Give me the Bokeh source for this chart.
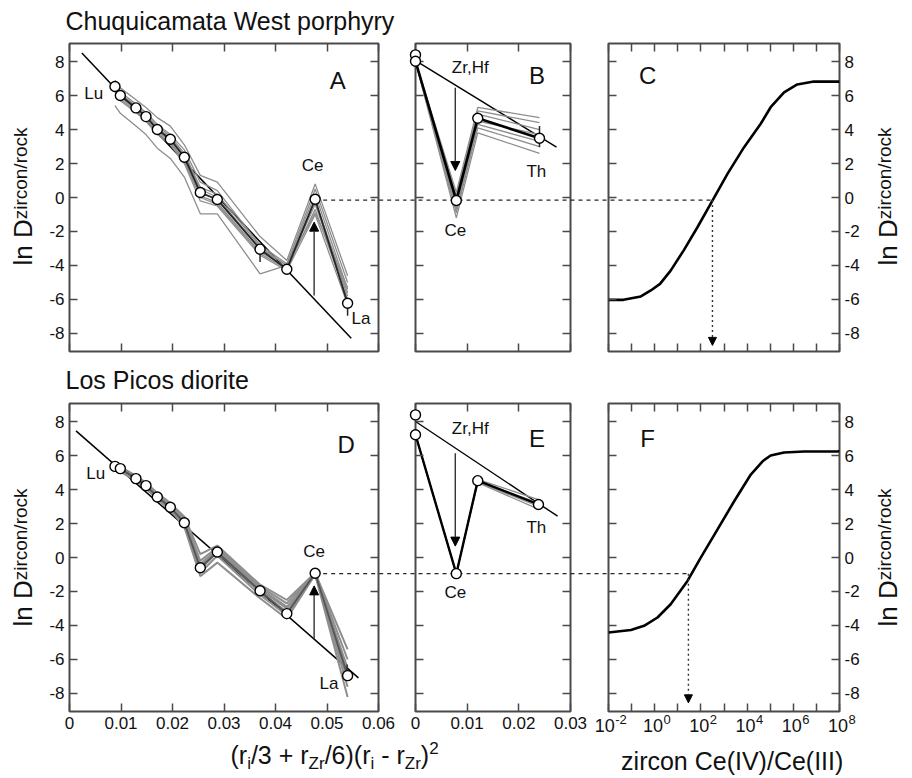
import math
from bokeh.plotting import figure
from bokeh.models import (Range1d, FixedTicker, LinearAxis, LogAxis,
                          CustomJSTickFormatter, Label, Arrow, NormalHead)
from bokeh.layouts import row, column
from bokeh.embed import file_html
from bokeh.resources import INLINE
from bokeh.core.properties import value

# ---------------- data ----------------
ree_x = [0.00883, 0.00987, 0.0129, 0.01485, 0.01705, 0.01958, 0.0223,
         0.0254, 0.0287, 0.0370, 0.0422, 0.0477, 0.0540]

# Chuquicamata West porphyry (panel A)
chuqui_mean = [6.53, 6.0, 5.27, 4.76, 4.0, 3.43, 2.37, 0.29, -0.12, -3.04, -4.22, -0.1, -6.22]
chuqui_s1 = [6.9, 6.45, 5.75, 5.3, 4.7, 4.2, 3.1, 1.3, 0.9, -2.3, -3.7, 0.8, -4.6]
chuqui_s2 = [6.7, 6.2, 5.5, 5.0, 4.3, 3.7, 2.8, 0.9, 0.4, -2.8, -3.9, 0.5, -5.0]
chuqui_s3 = [6.6, 6.1, 5.4, 4.9, 4.2, 3.6, 2.6, 0.6, 0.2, -2.9, -4.0, 0.2, -5.4]
chuqui_s4 = [6.4, 5.9, 5.2, 4.7, 3.9, 3.3, 2.2, 0.1, -0.3, -3.2, -4.1, -0.4, -5.8]
chuqui_s5 = [6.3, 5.8, 5.1, 4.6, 3.8, 3.2, 2.1, 0.0, -0.4, -3.3, -4.2, -0.7, -6.0]
chuqui_s6 = [6.2, 5.7, 5.0, 4.5, 3.7, 3.1, 2.0, -0.2, -0.5, -3.4, -4.3, -1.0, -6.3]
chuqui_s7 = [6.5, 6.0, 5.3, 4.8, 4.1, 3.5, 2.5, 0.5, 0.0, -3.0, -4.0, -0.2, -5.6]
chuqui_s8 = [5.41, 4.95, 4.2, 3.7, 2.9, 2.3, 1.2, -0.96, -0.96, -4.49, -4.0, -0.9, -5.3]
chuqui_lattice_x = [0.0024, 0.0547]
chuqui_lattice_y = [8.5, -8.28]
chuqui_err_x = [0.0370, 0.0540]
chuqui_err_lo = [-3.8, -6.95]
chuqui_err_hi = [-3.04, -6.22]

# Chuquicamata tetravalent cations (panel B)
b_x = [0.0, 0.0079, 0.01205, 0.024]
b_mean = [8.02, -0.18, 4.66, 3.49]
b_s1 = [8.0, 0.3, 5.3, 4.7]
b_s2 = [8.0, 0.1, 5.1, 4.4]
b_s3 = [8.0, -0.3, 4.9, 4.0]
b_s4 = [8.0, -0.5, 4.5, 3.7]
b_s5 = [8.0, -0.7, 4.3, 3.3]
b_s6 = [8.0, -0.9, 4.1, 3.0]
b_s7 = [8.0, -1.2, 3.8, 2.6]
b_pts_x = [0.0, 0.0, 0.0079, 0.01205, 0.024]
b_pts_y = [8.39, 8.02, -0.18, 4.66, 3.49]
b_lattice_x = [0.0, 0.0273]
b_lattice_y = [8.05, 2.96]
b_err_x = [0.024]
b_err_lo = [2.96]
b_err_hi = [4.2]

# Chuquicamata Ce(IV)/Ce(III) curve (panel C)
c_ratio = [0.01, 0.0447, 0.251, 0.676, 1.70, 4.90, 18.6, 70.8, 316, 1413, 7413,
           38900, 104700, 398000, 1.48e6, 7.76e6, 7.94e7, 1e8]
c_lnD = [-6.02, -6.02, -5.82, -5.47, -5.08, -4.3, -3.08, -1.75, -0.18, 1.39, 2.96,
         4.34, 5.31, 6.19, 6.65, 6.82, 6.82, 6.82]
c_ce_lnD = -0.15
c_ce_ratio = 316

# Los Picos diorite (panel D)
picos_mean = [5.36, 5.23, 4.64, 4.23, 3.56, 2.96, 2.04, -0.6, 0.32, -1.96, -3.3, -0.93, -6.95]
picos_s1 = [5.5, 5.35, 4.8, 4.4, 3.8, 3.2, 2.4, 0.2, 0.7, -1.6, -2.5, -0.9, -5.4]
picos_s2 = [5.45, 5.3, 4.75, 4.35, 3.7, 3.1, 2.3, -0.2, 0.6, -1.7, -2.7, -0.9, -6.0]
picos_s3 = [5.4, 5.25, 4.7, 4.3, 3.6, 3.0, 2.2, -0.4, 0.5, -1.8, -2.9, -0.95, -6.5]
picos_s4 = [5.3, 5.15, 4.6, 4.2, 3.5, 2.9, 2.0, -0.7, 0.3, -2.0, -3.2, -0.95, -7.2]
picos_s5 = [5.25, 5.1, 4.55, 4.1, 3.45, 2.85, 1.9, -0.9, 0.1, -2.2, -3.4, -1.0, -7.6]
picos_s6 = [5.2, 5.05, 4.5, 4.05, 3.4, 2.8, 1.8, -1.1, -0.3, -2.4, -3.6, -1.0, -8.2]
picos_s7 = [5.35, 5.2, 4.65, 4.25, 3.55, 2.95, 2.1, -0.5, 0.4, -1.9, -3.0, -0.9, -6.8]
picos_lattice_x = [0.00126, 0.0561]
picos_lattice_y = [7.45, -7.08]
picos_err_x = [0.0539]
picos_err_lo = [-6.95]
picos_err_hi = [-6.3]

# Los Picos tetravalent cations (panel E)
e_x = [0.0, 0.0079, 0.01205, 0.0238]
e_mean = [7.22, -0.95, 4.52, 3.12]
e_s1 = [7.22, -0.95, 4.6, 3.4]
e_s2 = [7.22, -0.95, 4.5, 3.2]
e_s3 = [7.22, -0.95, 4.45, 3.0]
e_s4 = [7.22, -0.95, 4.4, 2.85]
e_pts_x = [0.0, 0.0, 0.0079, 0.01205, 0.0238]
e_pts_y = [8.39, 7.22, -0.95, 4.52, 3.12]
e_lattice_x = [0.0, 0.0275]
e_lattice_y = [8.0, 2.43]

# Los Picos Ce(IV)/Ce(III) curve (panel F)
f_ratio = [0.01, 0.0933, 0.347, 1.32, 4.90, 26.3, 100, 525, 2754, 14450, 46770,
           104700, 398000, 2.95e6, 7.94e7, 1e8]
f_lnD = [-4.41, -4.27, -4.02, -3.53, -2.75, -1.38, 0.01, 1.65, 3.31, 4.88, 5.66,
         6.0, 6.18, 6.24, 6.24, 6.26]
f_ce_lnD = -0.95
f_ce_ratio = 28.8

# axis ticks
y_ticks = [-8, -6, -4, -2, 0, 2, 4, 6, 8]
y_tick_labels = ["-8", "-6", "-4", "-2", "0", "2", "4", "6", "8"]
wide_x_ticks = [0, 0.01, 0.02, 0.03, 0.04, 0.05, 0.06]
wide_x_labels = ["0", "0.01", "0.02", "0.03", "0.04", "0.05", "0.06"]
narrow_x_ticks = [0, 0.01, 0.02, 0.03]
narrow_x_labels = ["0", "0.01", "0.02", "0.03"]
log_x_ticks = [1e-2, 1e-1, 1e0, 1e1, 1e2, 1e3, 1e4, 1e5, 1e6, 1e7, 1e8]
log_label_ticks = [1e-2, 1e0, 1e2, 1e4, 1e6, 1e8]
log_label_base = "10"
log_label_exps = ["-2", "0", "2", "4", "6", "8"]

# in-panel annotations
a_lbl_text = ["Lu", "Ce", "La"]
a_lbl_x = [0.0047, 0.0472, 0.0566]
a_lbl_y = [6.1, 1.88, -7.12]
d_lbl_text = ["Lu", "Ce", "La"]
d_lbl_x = [0.0051, 0.0475, 0.0504]
d_lbl_y = [4.97, 0.38, -7.43]
be_lbl_text = ["Zr,Hf", "Th", "Ce"]
b_lbl_x = [0.0106, 0.0234, 0.0077]
b_lbl_y = [7.66, 1.55, -1.94]
e_lbl_x = [0.0106, 0.0234, 0.0077]
e_lbl_y = [7.61, 1.75, -2.06]
a_arrow = (0.0475, -5.76, -1.45)
d_arrow = (0.0475, -4.8, -1.67)
b_arrow = (0.0077, 6.45, 1.59)
e_arrow = (0.0077, 6.14, 0.67)

# ---------------- style / layout ----------------
FONT = "Liberation Sans"
FRAME = "#4a4a4a"
GRAY = "#8e8e8e"
DARK = "#262626"
YR = (-9.06, 9.06)

# (origin, size, border_before, border_after) in page pixels
COLS = [(0, 405, 69, 27), (405, 184, 10, 19), (589, 322, 19, 72)]
ROWS = [(0, 365, 43, 14), (365, 373, 38, 27)]
STRIP_Y, STRIP_H = 738, 39
TOTAL_W = 911

AW = {'l': 222, 'n': 556, ' ': 278, 'D': 722, 'z': 500, 'i': 222, 'r': 333, 'c': 500,
      'o': 556, '/': 278, 'k': 500, '(': 333, ')': 333, '3': 556, '+': 584, '6': 556,
      '-': 333, 'Z': 611, '2': 556, '0': 556, '1': 556, '4': 556, '8': 556}


def tw(s, size):
    return sum(AW.get(ch, 556) for ch in s) / 1000.0 * size


JS = """
for (let i = 0; i < tv.length; i++) {
  if (Math.abs(tick - tv[i]) <= 1e-9 * Math.max(1, Math.abs(tv[i]))) return lb[i];
}
return "";
"""


def style_axis(ax, ticks, labels, show):
    ax.ticker = FixedTicker(ticks=ticks)
    ax.formatter = CustomJSTickFormatter(
        args=dict(tv=ticks, lb=(labels if show else [""] * len(ticks))), code=JS)
    ax.axis_line_color = None
    ax.major_tick_in = 8
    ax.major_tick_out = 0
    ax.major_tick_line_color = FRAME
    ax.major_tick_line_width = 1.5
    ax.minor_tick_line_color = None
    ax.major_label_text_font = FONT
    ax.major_label_text_font_size = "17px" if show else "1px"
    ax.major_label_standoff = 5 if show else 0
    ax.major_label_text_color = "#111111"


def make_fig(c, r, xr, logx, xt, xl, show_x, show_left, show_right):
    ox, w, bl, br = COLS[c]
    oy, h, bt, bb = ROWS[r]
    p = figure(width=w, height=h, x_range=Range1d(*xr), y_range=Range1d(*YR),
               x_axis_type="log" if logx else "linear", title=None,
               min_border_left=bl, min_border_right=br,
               min_border_top=bt, min_border_bottom=bb,
               toolbar_location=None, output_backend="svg")
    p.grid.visible = False
    p.outline_line_color = FRAME
    p.outline_line_width = 2
    p.background_fill_color = "white"
    p.border_fill_color = "white"
    style_axis(p.below[0], xt, xl, show_x)
    style_axis(p.left[0], y_ticks, y_tick_labels, show_left)
    top = LogAxis() if logx else LinearAxis()
    p.add_layout(top, "above")
    style_axis(top, xt, xl, False)
    right = LinearAxis()
    p.add_layout(right, "right")
    style_axis(right, y_ticks, y_tick_labels, show_right)
    g = dict(p=p, ox=ox, oy=oy, w=w, h=h, fl=bl, ft=bt, fw=w - bl - br, fh=h - bt - bb,
             xr=xr, logx=logx)
    return p, g


def to_data(g, gx, gy):
    fx = (gx - g['ox'] - g['fl']) / g['fw']
    fy = (gy - g['oy'] - g['ft']) / g['fh']
    x0, x1 = g['xr']
    if g['logx']:
        x = 10 ** (math.log10(x0) + fx * (math.log10(x1) - math.log10(x0)))
    else:
        x = x0 + fx * (x1 - x0)
    y = YR[1] - fy * (YR[1] - YR[0])
    return x, y


def to_page_x(g, x):
    x0, x1 = g['xr']
    if g['logx']:
        fx = (math.log10(x) - math.log10(x0)) / (math.log10(x1) - math.log10(x0))
    else:
        fx = (x - x0) / (x1 - x0)
    return g['ox'] + g['fl'] + fx * g['fw']


def border_text(g, text, gx, gy, size, align="left", angle=0.0):
    """Text in a figure's border area; (gx, gy) is the page-pixel anchor (vertical middle)."""
    x, y = to_data(g, gx, gy)
    g['p'].text(x=[x], y=[y], text=[text], text_font=value(FONT),
                text_font_size=value(f"{size}px"), text_color="#111111",
                text_align=align, text_baseline="middle", angle=angle,
                level="overlay")


def panel_label(p, x, y, text, size, align="center"):
    p.add_layout(Label(x=x, y=y, text=text, text_font=FONT, text_font_size=f"{size}px",
                       text_color="#111111", text_align=align, text_baseline="middle"))


def hline(g, y, gx0=None, gx1=None, x0=None, x1=None):
    if x0 is None:
        x0 = to_data(g, gx0, 0)[0]
    if x1 is None:
        x1 = to_data(g, gx1, 0)[0]
    g['p'].line([x0, x1], [y, y], line_color=DARK, line_width=1.3, line_dash="4 4",
                level="overlay")


def vert_arrow(p, x, y0, y1, dash="solid", size=9):
    p.add_layout(Arrow(end=NormalHead(size=size, fill_color="black", line_color="black"),
                       x_start=x, y_start=y0, x_end=x, y_end=y1,
                       line_color="#333333", line_width=1.4, line_dash=dash))


def points(p, xs, ys):
    p.scatter(xs, ys, size=10, fill_color="white", line_color="black", line_width=1.4,
              level="overlay")


def whiskers(p, xs, lo, hi):
    p.segment(xs, lo, xs, hi, line_color=DARK, line_width=1.5)


def log_tick_labels(g, frame_bottom):
    """Power-of-ten tick labels with raised exponents under a log axis."""
    for t, ex in zip(log_label_ticks, log_label_exps):
        cx = to_page_x(g, t) + 2
        wb, we = tw(log_label_base, 18), tw(ex, 13)
        left = cx - (wb + we) / 2
        border_text(g, log_label_base, left, frame_bottom + 14, 18)
        border_text(g, ex, left + wb + 0.5, frame_bottom + 8, 13)


# ---------------- panels ----------------
pA, gA = make_fig(0, 0, (0, 0.06), False, wide_x_ticks, wide_x_labels, False, True, False)
pB, gB = make_fig(1, 0, (0, 0.03), False, narrow_x_ticks, narrow_x_labels, False, False, False)
pC, gC = make_fig(2, 0, (1e-2, 1e8), True, log_x_ticks, [], False, False, True)
pD, gD = make_fig(0, 1, (0, 0.06), False, wide_x_ticks, wide_x_labels, True, True, False)
pE, gE = make_fig(1, 1, (0, 0.03), False, narrow_x_ticks, narrow_x_labels, True, False, False)
pF, gF = make_fig(2, 1, (1e-2, 1e8), True, log_x_ticks, [], False, False, True)

# panel A
pA.line(chuqui_lattice_x, chuqui_lattice_y, line_color="black", line_width=1.5)
for s in [chuqui_s1, chuqui_s2, chuqui_s3, chuqui_s4, chuqui_s5, chuqui_s6, chuqui_s7, chuqui_s8]:
    pA.line(ree_x, s, line_color=GRAY, line_width=1.3)
pA.line(ree_x, chuqui_mean, line_color=DARK, line_width=1.8)
whiskers(pA, chuqui_err_x, chuqui_err_lo, chuqui_err_hi)
vert_arrow(pA, a_arrow[0], a_arrow[1], a_arrow[2])
hline(gA, c_ce_lnD, x0=ree_x[11], gx1=gA['ox'] + gA['w'] + 3)
points(pA, ree_x, chuqui_mean)
for t, x, y in zip(a_lbl_text, a_lbl_x, a_lbl_y):
    panel_label(pA, x, y, t, 17)
panel_label(pA, 0.0521, 6.88, "A", 24)

# panel B
pB.line(b_lattice_x, b_lattice_y, line_color="black", line_width=1.4)
for s in [b_s1, b_s2, b_s3, b_s4, b_s5, b_s6, b_s7]:
    pB.line(b_x, s, line_color=GRAY, line_width=1.3)
pB.line(b_x, b_mean, line_color="black", line_width=2.6)
whiskers(pB, b_err_x, b_err_lo, b_err_hi)
vert_arrow(pB, b_arrow[0], b_arrow[1], b_arrow[2])
hline(gB, c_ce_lnD, gx0=gB['ox'] - 3, gx1=gB['ox'] + gB['w'] + 3)
points(pB, b_pts_x, b_pts_y)
for t, x, y in zip(be_lbl_text, b_lbl_x, b_lbl_y):
    panel_label(pB, x, y, t, 17)
panel_label(pB, 0.0235, 7.18, "B", 24)

# panel C
pC.line(c_ratio, c_lnD, line_color="black", line_width=2.6)
hline(gC, c_ce_lnD, gx0=gC['ox'] - 3, x1=c_ce_ratio)
vert_arrow(pC, c_ce_ratio, c_ce_lnD, -8.7, dash="2 3", size=8)
panel_label(pC, 0.49, 7.18, "C", 24)

# panel D
pD.line(picos_lattice_x, picos_lattice_y, line_color="black", line_width=1.5)
for s in [picos_s1, picos_s2, picos_s3, picos_s4, picos_s5, picos_s6, picos_s7]:
    pD.line(ree_x, s, line_color=GRAY, line_width=2.0)
pD.line(ree_x, picos_mean, line_color="#555555", line_width=1.8)
whiskers(pD, picos_err_x, picos_err_lo, picos_err_hi)
vert_arrow(pD, d_arrow[0], d_arrow[1], d_arrow[2])
hline(gD, f_ce_lnD, x0=ree_x[11], gx1=gD['ox'] + gD['w'] + 3)
points(pD, ree_x, picos_mean)
for t, x, y in zip(d_lbl_text, d_lbl_x, d_lbl_y):
    panel_label(pD, x, y, t, 17)
panel_label(pD, 0.0537, 6.67, "D", 24)

# panel E
pE.line(e_lattice_x, e_lattice_y, line_color="black", line_width=1.4)
for s in [e_s1, e_s2, e_s3, e_s4]:
    pE.line(e_x, s, line_color=GRAY, line_width=1.3)
pE.line(e_x, e_mean, line_color="black", line_width=2.4)
vert_arrow(pE, e_arrow[0], e_arrow[1], e_arrow[2])
hline(gE, f_ce_lnD, gx0=gE['ox'] - 3, gx1=gE['ox'] + gE['w'] + 3)
points(pE, e_pts_x, e_pts_y)
for t, x, y in zip(be_lbl_text, e_lbl_x, e_lbl_y):
    panel_label(pE, x, y, t, 17)
panel_label(pE, 0.0235, 7.02, "E", 24)

# panel F
pF.line(f_ratio, f_lnD, line_color="black", line_width=2.6)
hline(gF, f_ce_lnD, gx0=gF['ox'] - 3, x1=f_ce_ratio)
vert_arrow(pF, f_ce_ratio, f_ce_lnD, -8.55, dash="2 3", size=8)
panel_label(pF, 0.49, 7.02, "F", 24)
log_tick_labels(gF, gF['oy'] + gF['ft'] + gF['fh'])

# ---------------- texts in the borders ----------------
border_text(gA, "Chuquicamata West porphyry", 65, 20.5, 25)
border_text(gD, "Los Picos diorite", 65, 379.5, 25)

MAIN_Y, SUP_Y = "ln D", "zircon/rock"


def ylabel(g, center_y, mid_x, sup_mid_x):
    L = tw(MAIN_Y, 26) + tw(SUP_Y, 19)
    y0 = center_y + L / 2
    border_text(g, MAIN_Y, mid_x, y0, 26, angle=math.pi / 2)
    border_text(g, SUP_Y, sup_mid_x, y0 - tw(MAIN_Y, 26), 19, angle=math.pi / 2)


ylabel(gA, 196, 22.6, 20.4)
ylabel(gD, 557, 22.6, 20.4)
ylabel(gC, 196, 887.6, 884.4)
ylabel(gF, 557, 887.6, 884.4)

# strip below the bottom row for the x-axis titles (page pixels, y downwards)
strip = figure(width=TOTAL_W, height=STRIP_H, x_range=Range1d(0, TOTAL_W),
               y_range=Range1d(STRIP_Y + STRIP_H, STRIP_Y), title=None, min_border=0,
               x_axis_location=None, y_axis_location=None,
               toolbar_location=None, output_backend="svg")
strip.grid.visible = False
strip.outline_line_color = None
strip.background_fill_color = "white"
strip.border_fill_color = "white"

pieces = [("(r", 0), ("i", 1), ("/3 + r", 0), ("Zr", 1), ("/6)(r", 0), ("i", 1),
          (" - r", 0), ("Zr", 1), (")", 0), ("2", 2)]
px_x, px_y, px_t, px_s = [], [], [], []
cur = 230
for t, kind in pieces:
    size = 25 if kind == 0 else 17
    stripped = t.lstrip(" ")
    lead = t[:len(t) - len(stripped)]
    px_x.append(cur + tw(lead, size))
    px_y.append(754 if kind == 0 else (762.5 if kind == 1 else 747))
    px_t.append(stripped)
    px_s.append(f"{size}px")
    cur += tw(t, size)
strip.text(x=px_x, y=px_y, text=px_t, text_font=value(FONT), text_font_size=px_s,
           text_color="#111111", text_align="left", text_baseline="middle")
strip.text(x=[731.7], y=[760], text=["zircon Ce(IV)/Ce(III)"],
           text_font=value(FONT), text_font_size=value("25px"), text_color="#111111",
           text_align="center", text_baseline="middle")

layout = column(row(pA, pB, pC), row(pD, pE, pF), strip)
open("out.html", "w").write(file_html(layout, INLINE))
